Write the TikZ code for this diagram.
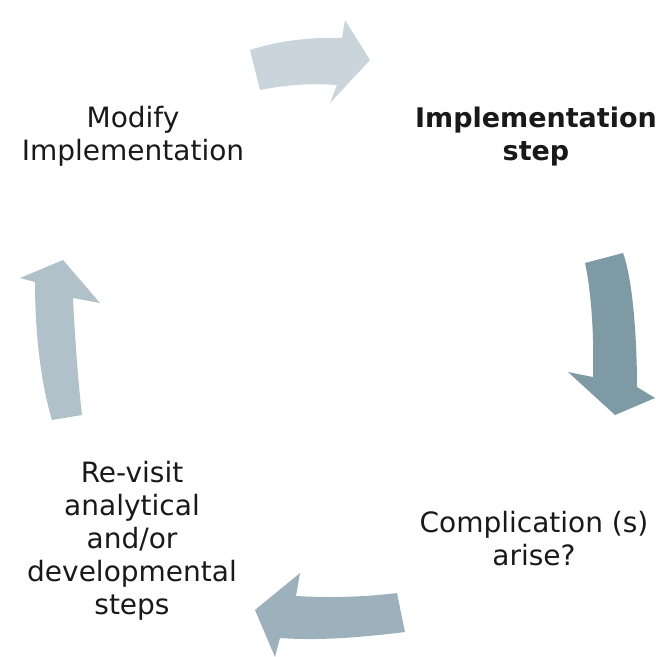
\documentclass[tikz,border=0pt]{standalone}
\usepackage{fontspec}
\setmainfont{DejaVu Sans}
\definecolor{arrowtop}{RGB}{202,212,219}
\definecolor{arrowright}{RGB}{126,155,165}
\definecolor{arrowbottom}{RGB}{157,177,188}
\definecolor{arrowleft}{RGB}{176,193,201}
\tikzset{
  steptext/.style={align=center, inner sep=0pt, text=black!90, font=\fontsize{28}{33}\selectfont},
  blockarrow/.style={draw=none}
}
\begin{document}
\begin{tikzpicture}[x=1pt, y=-1pt]
\useasboundingbox (0,0) rectangle (656,657);
\node[steptext] (modify) at (133,136) {Modify\\Implementation};
\node[steptext, font=\fontsize{27}{33}\selectfont\bfseries] (implement) at (536,137) {Implementation\\step};
\node[steptext] (complication) at (534,539) {Complication (s)\\arise?};
\node[steptext] (revisit) at (132,541) {Re-visit\\analytical\\and/or\\developmental\\steps};
\fill[blockarrow, arrowtop] (250,50) .. controls (280,40) and (315,37) .. (342,38) -- (345,20) -- (370,60) -- (330,103) -- (337,85) .. controls (310,83) and (285,85) .. (260,90) -- cycle;
\fill[blockarrow, arrowright] (585,263) -- (623,253) .. controls (633,280) and (637,340) .. (637,387) -- (655,398) -- (615,415) -- (568,372) -- (593,377) .. controls (594,340) and (592,295) .. (585,263) -- cycle;
\fill[blockarrow, arrowbottom] (397,593) .. controls (365,597) and (330,598) .. (296,596) -- (300,573) -- (255,610) -- (275,657) -- (280,638) .. controls (320,641) and (365,637) .. (405,632) -- cycle;
\fill[blockarrow, arrowleft] (52,420) .. controls (40,380) and (35,330) .. (35,282) -- (20,278) -- (63,260) -- (100,303) -- (73,298) .. controls (75,340) and (78,380) .. (82,415) -- cycle;
\end{tikzpicture}
\end{document}
